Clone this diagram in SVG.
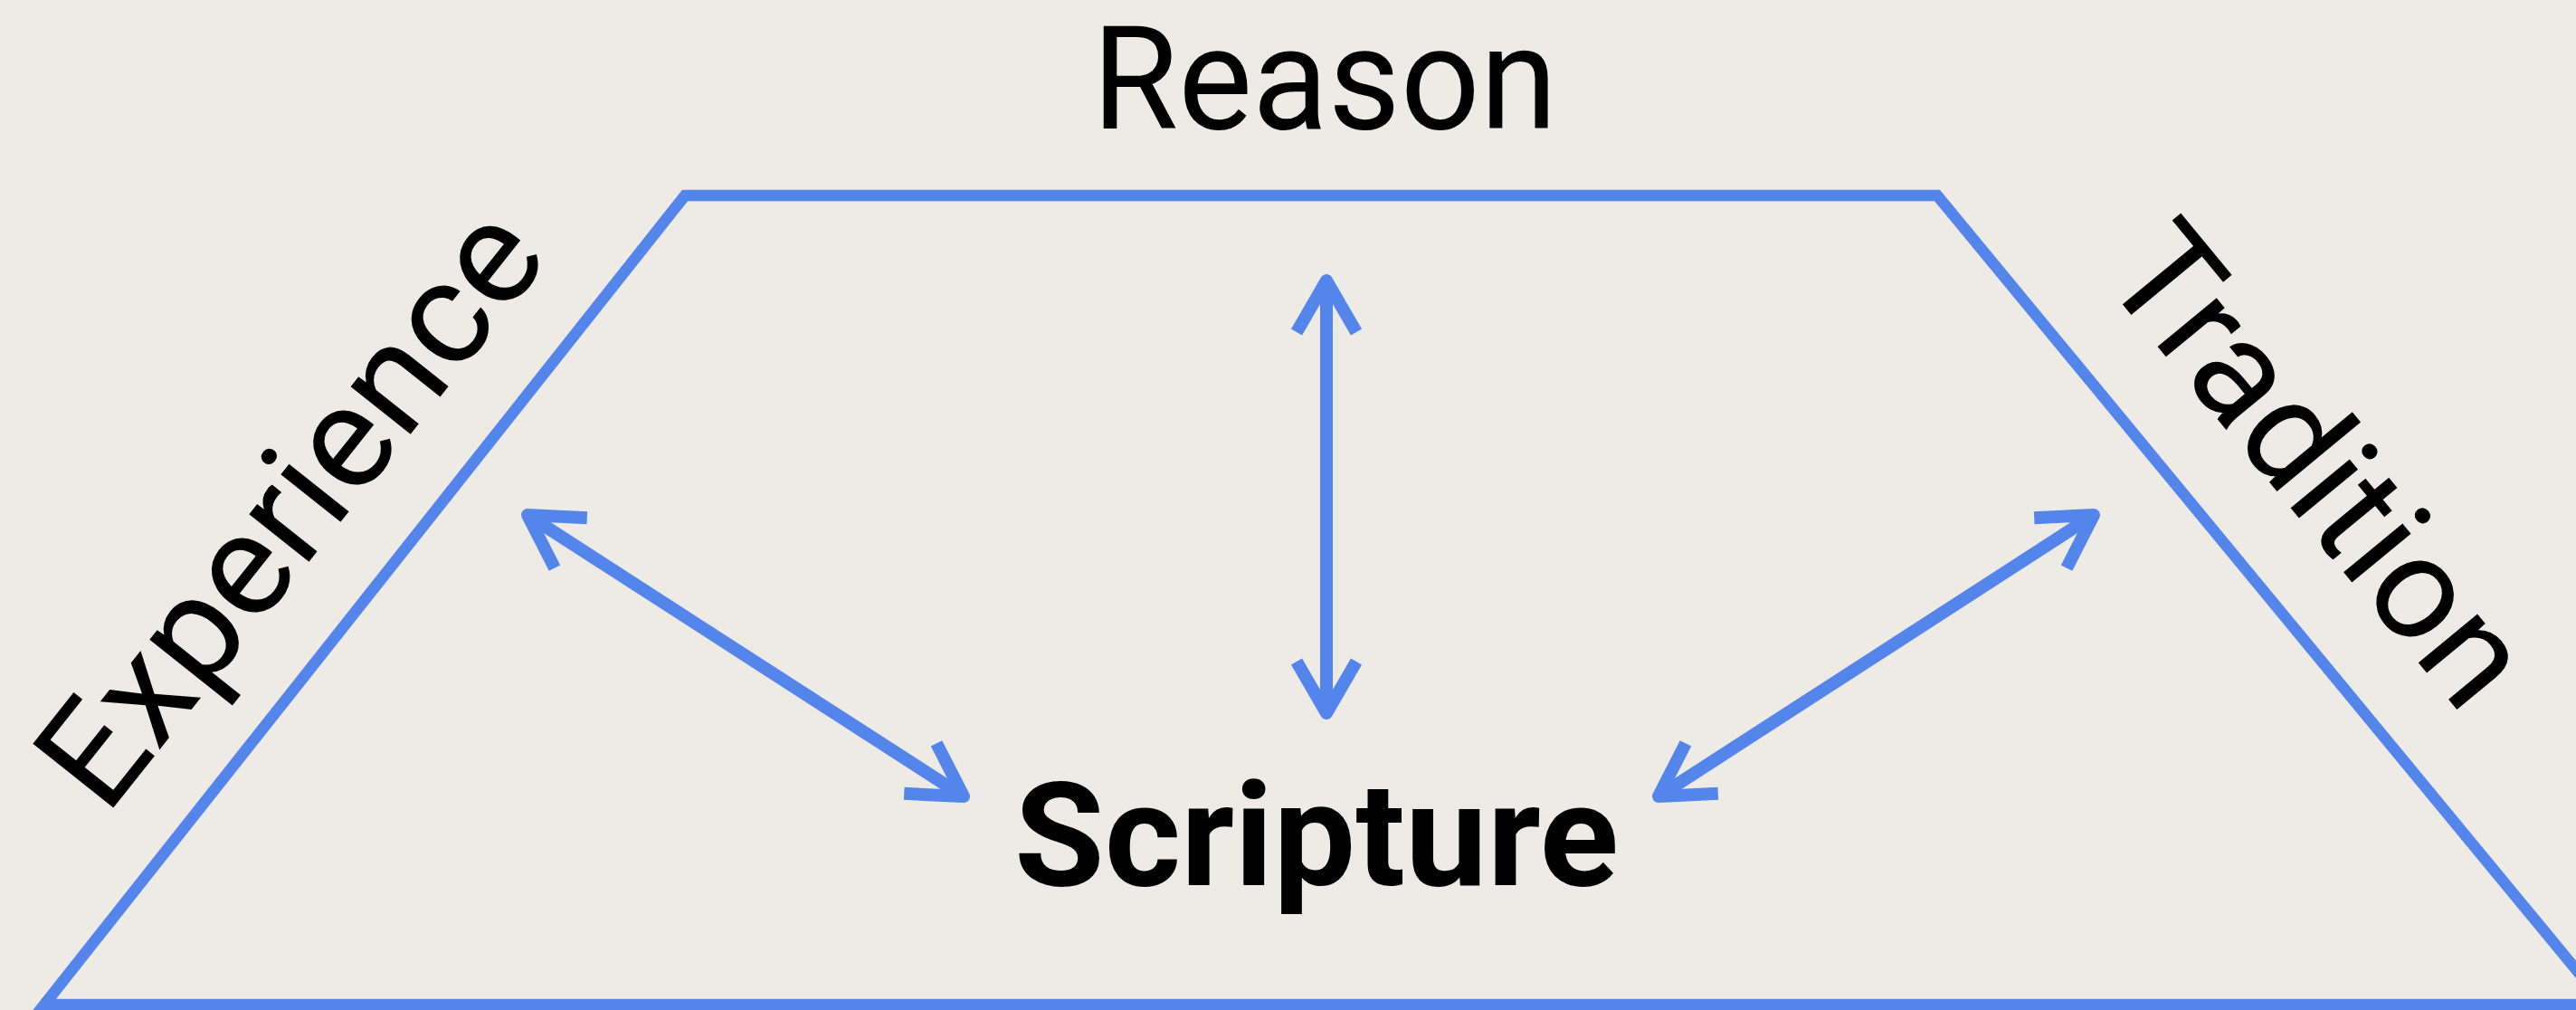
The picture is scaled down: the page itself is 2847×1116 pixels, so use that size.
<svg xmlns="http://www.w3.org/2000/svg" width="2847" height="1116" viewBox="0 0 2847 1116">
  <style>
    .lbl { font-family: Roboto, "Liberation Sans", sans-serif; font-size: 160px; fill: #000; }
    .bold { font-weight: bold; }
    .frame { fill: none; stroke: #5485EB; stroke-width: 12.5; stroke-linejoin: miter; }
    .arrow { fill: none; stroke: #5485EB; stroke-width: 14; marker-start: url(#head); marker-end: url(#head); }
  </style>
  <defs>
    <marker id="head" markerUnits="userSpaceOnUse" orient="auto-start-reverse" refX="0" refY="0" markerWidth="10" markerHeight="10" overflow="visible">
      <path d="M-57,-33 L0,0 L-57,33" fill="none" stroke="#5485EB" stroke-width="14" stroke-linejoin="round" stroke-linecap="butt"/>
    </marker>
  </defs>
  <rect x="0" y="0" width="2847" height="1116" fill="#EEEBE6"/>
  <g id="frame">
    <path class="frame" d="M757,216 L2141,216 L2879,1110 L49,1110 Z"/>
  </g>
  <g id="connectors">
    <path class="arrow" d="M1466,310 L1466,788"/>
    <path class="arrow" d="M583,569 L1065,880"/>
    <path class="arrow" d="M2314,569 L1833,880"/>
  </g>
  <g id="reason">
    <text class="lbl" x="1464" y="142" text-anchor="middle" textLength="514" lengthAdjust="spacingAndGlyphs">Reason</text>
  </g>
  <g id="scripture">
    <text class="lbl bold" x="1455" y="978" text-anchor="middle" textLength="668" lengthAdjust="spacingAndGlyphs">Scripture</text>
  </g>
  <g id="experience">
    <text class="lbl" transform="translate(117,903) rotate(-51.5)" x="0" y="0" textLength="790" lengthAdjust="spacingAndGlyphs">Experience</text>
  </g>
  <g id="tradition">
    <text class="lbl" transform="translate(2320,305) rotate(50.45)" x="0" y="0" textLength="632" lengthAdjust="spacingAndGlyphs">Tradition</text>
  </g>
</svg>
